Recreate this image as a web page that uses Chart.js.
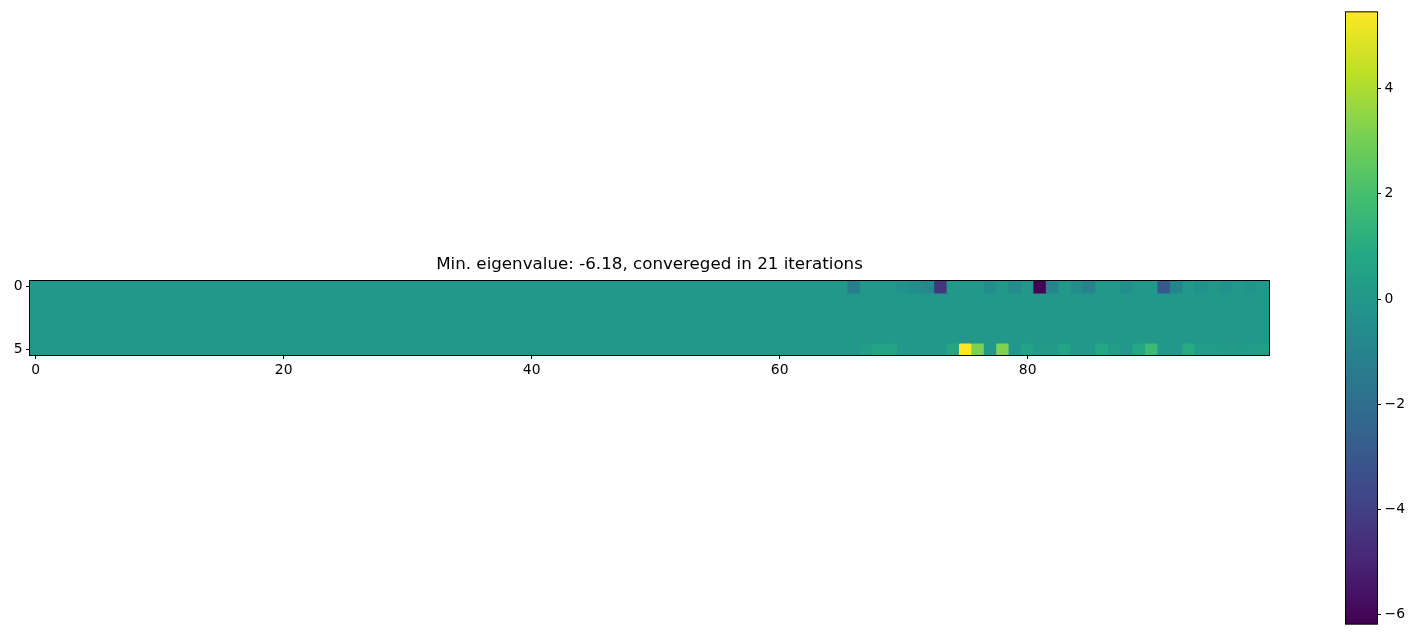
<!DOCTYPE html>
<html>
<head>
<meta charset="utf-8">
<script src="https://cdn.jsdelivr.net/npm/chart.js@4.4.1/dist/chart.umd.min.js"></script>
<style>
  html, body { margin: 0; padding: 0; background: #fff; }
  #heat-wrap { position: absolute; left: 0; top: 0; width: 1290px; height: 636px; }
  #cbar-wrap { position: absolute; left: 1300px; top: 0; width: 116px; height: 636px; }
</style>
</head>
<body>
<div id="heat-wrap"><canvas id="heat"></canvas></div>
<div id="cbar-wrap"><canvas id="cbar"></canvas></div>
<script>
// -- Data -----------------------------------------------------------------

const titleText = 'Min. eigenvalue: -6.18, convereged in 21 iterations';

const columns = [
  0, 1, 2, 3, 4, 5, 6, 7, 8, 9, 10, 11, 12, 13, 14, 15, 16, 17, 18, 19,
  20, 21, 22, 23, 24, 25, 26, 27, 28, 29, 30, 31, 32, 33, 34, 35, 36, 37, 38, 39,
  40, 41, 42, 43, 44, 45, 46, 47, 48, 49, 50, 51, 52, 53, 54, 55, 56, 57, 58, 59,
  60, 61, 62, 63, 64, 65, 66, 67, 68, 69, 70, 71, 72, 73, 74, 75, 76, 77, 78, 79,
  80, 81, 82, 83, 84, 85, 86, 87, 88, 89, 90, 91, 92, 93, 94, 95, 96, 97, 98, 99,
];

const row0 = [
  0, 0, 0, 0, 0, 0, 0, 0, 0, 0, 0, 0, 0, 0, 0, 0, 0, 0, 0, 0,
  0, 0, 0, 0, 0, 0, 0, 0, 0, 0, 0, 0, 0, 0, 0, 0, 0, 0, 0, 0,
  0, 0, 0, 0, 0, 0, 0, 0, 0, 0, 0, 0, 0, 0, 0, 0, 0, 0, 0, 0,
  0, 0, 0, 0, 0, 0, -1.2, 0, 0, 0, -0.3, -0.5, -0.8, -4.4, 0, 0, 0, -0.6, 0, -0.6,
  0, -6.18, -0.9, 0, -0.6, -1.0, 0, 0, -0.4, 0, 0, -3.0, -0.9, 0, -0.3, 0, -0.3, 0, -0.2, 0,
];
const row1 = [
  0, 0, 0, 0, 0, 0, 0, 0, 0, 0, 0, 0, 0, 0, 0, 0, 0, 0, 0, 0,
  0, 0, 0, 0, 0, 0, 0, 0, 0, 0, 0, 0, 0, 0, 0, 0, 0, 0, 0, 0,
  0, 0, 0, 0, 0, 0, 0, 0, 0, 0, 0, 0, 0, 0, 0, 0, 0, 0, 0, 0,
  0, 0, 0, 0, 0, 0, 0, 0, 0, 0, 0, 0, 0, 0, 0, 0, 0, 0, 0, 0,
  0, 0, 0, 0, 0, 0, 0, 0, 0, 0, 0, 0, 0, 0, 0, 0, 0, 0, 0, 0,
];
const row2 = [
  0, 0, 0, 0, 0, 0, 0, 0, 0, 0, 0, 0, 0, 0, 0, 0, 0, 0, 0, 0,
  0, 0, 0, 0, 0, 0, 0, 0, 0, 0, 0, 0, 0, 0, 0, 0, 0, 0, 0, 0,
  0, 0, 0, 0, 0, 0, 0, 0, 0, 0, 0, 0, 0, 0, 0, 0, 0, 0, 0, 0,
  0, 0, 0, 0, 0, 0, 0, 0, 0, 0, 0, 0, 0, 0, 0, 0, 0, 0, 0, 0,
  0, 0, 0, 0, 0, 0, 0, 0, 0, 0, 0, 0, 0, 0, 0, 0, 0, 0, 0, 0,
];
const row3 = [
  0, 0, 0, 0, 0, 0, 0, 0, 0, 0, 0, 0, 0, 0, 0, 0, 0, 0, 0, 0,
  0, 0, 0, 0, 0, 0, 0, 0, 0, 0, 0, 0, 0, 0, 0, 0, 0, 0, 0, 0,
  0, 0, 0, 0, 0, 0, 0, 0, 0, 0, 0, 0, 0, 0, 0, 0, 0, 0, 0, 0,
  0, 0, 0, 0, 0, 0, 0, 0, 0, 0, 0, 0, 0, 0, 0, 0, 0, 0, 0, 0,
  0, 0, 0, 0, 0, 0, 0, 0, 0, 0, 0, 0, 0, 0, 0, 0, 0, 0, 0, 0,
];
const row4 = [
  0, 0, 0, 0, 0, 0, 0, 0, 0, 0, 0, 0, 0, 0, 0, 0, 0, 0, 0, 0,
  0, 0, 0, 0, 0, 0, 0, 0, 0, 0, 0, 0, 0, 0, 0, 0, 0, 0, 0, 0,
  0, 0, 0, 0, 0, 0, 0, 0, 0, 0, 0, 0, 0, 0, 0, 0, 0, 0, 0, 0,
  0, 0, 0, 0, 0, 0, 0, 0, 0, 0, 0, 0, 0, 0, 0, 0, 0, 0, 0, 0,
  0, 0, 0, 0, 0, 0, 0, 0, 0, 0, 0, 0, 0, 0, 0, 0, 0, 0, 0, 0,
];
const row5 = [
  0, 0, 0, 0, 0, 0, 0, 0, 0, 0, 0, 0, 0, 0, 0, 0, 0, 0, 0, 0,
  0, 0, 0, 0, 0, 0, 0, 0, 0, 0, 0, 0, 0, 0, 0, 0, 0, 0, 0, 0,
  0, 0, 0, 0, 0, 0, 0, 0, 0, 0, 0, 0, 0, 0, 0, 0, 0, 0, 0, 0,
  0, 0, 0, 0, 0, 0, 0, 0.3, 0.6, 0.6, 0, 0, 0, 0, 0.7, 5.46, 3.1, 0, 3.2, 0,
  0.5, 0.1, 0.1, 0.6, 0, 0, 0.8, 0.3, 0, 0.8, 1.7, 0, 0, 0.9, 0.2, 0.2, 0.1, 0.1, 0.2, 0.3,
];

const rows = [row0, row1, row2, row3, row4, row5];

const xTicks = [0, 20, 40, 60, 80];
const yTicks = [0, 5];
const cbarTicks = [-6, -4, -2, 0, 2, 4];

// -- Colormap (viridis) ---------------------------------------------------

const viridisStops = [
  '#440154', '#482475', '#414487', '#355f8d', '#2a788e', '#21918c',
  '#22a884', '#44bf70', '#7ad151', '#bddf26', '#fde725',
];

const allValues = rows.flat();
const vmin = Math.min(...allValues);
const vmax = Math.max(...allValues);

function hexToRgb(hex) {
  const n = parseInt(hex.slice(1), 16);
  return [(n >> 16) & 255, (n >> 8) & 255, n & 255];
}

function viridis(t) {
  t = Math.max(0, Math.min(1, t));
  const pos = t * (viridisStops.length - 1);
  const i = Math.min(Math.floor(pos), viridisStops.length - 2);
  const f = pos - i;
  const a = hexToRgb(viridisStops[i]);
  const b = hexToRgb(viridisStops[i + 1]);
  const c = a.map((v, k) => Math.round(v + (b[k] - v) * f));
  return `rgb(${c[0]},${c[1]},${c[2]})`;
}

function colorFor(value) {
  return viridis((value - vmin) / (vmax - vmin));
}

// -- Shared bits -------------------------------------------------------------

const FONT = 'DejaVu Sans';
Chart.defaults.font.family = FONT;
Chart.defaults.color = '#000';
Chart.defaults.animation = false;

// black frame around the plotting area (matplotlib spines)
const framePlugin = {
  id: 'frame',
  afterDatasetsDraw(chart) {
    const { ctx, chartArea: a } = chart;
    ctx.save();
    ctx.strokeStyle = '#000';
    ctx.lineWidth = 1;
    ctx.strokeRect(a.left, a.top, a.right - a.left, a.bottom - a.top);
    ctx.restore();
  },
};

// title centred over the axes, like matplotlib's ax.set_title
const axesTitlePlugin = {
  id: 'axesTitle',
  afterDraw(chart) {
    const { ctx, chartArea: a } = chart;
    ctx.save();
    ctx.fillStyle = '#000';
    ctx.font = `16.7px "${FONT}"`;
    ctx.textAlign = 'center';
    ctx.textBaseline = 'middle';
    ctx.fillText(titleText, (a.left + a.right) / 2, a.top - 16);
    ctx.restore();
  },
};

const tickGrid = {
  display: true,
  drawOnChartArea: false,
  drawTicks: true,
  tickLength: 3.5,
  color: '#000',
  lineWidth: 1,
};

const minus = (v) => (v < 0 ? '\u2212' + Math.abs(v) : String(v));

// -- Heatmap -----------------------------------------------------------------

const heatDatasets = rows.map((values, r) => ({
  data: columns.map((c) => ({ x: c, y: [r - 0.5, r + 0.5] })),
  backgroundColor: values.map(colorFor),
  borderWidth: 0,
  inflateAmount: 0.5,
  grouped: false,
  barPercentage: 1,
  categoryPercentage: 1,
}));

new Chart(document.getElementById('heat'), {
  type: 'bar',
  data: { datasets: heatDatasets },
  options: {
    responsive: true,
    maintainAspectRatio: false,
    layout: { padding: { left: 0, right: 20.5, top: 280.5, bottom: 250.5 } },
    scales: {
      x: {
        type: 'linear',
        min: -0.5,
        max: 99.5,
        offset: false,
        grid: { ...tickGrid, offset: false },
        border: { display: false },
        afterBuildTicks: (scale) => { scale.ticks = xTicks.map((v) => ({ value: v })); },
        afterFit: (scale) => { scale.height = 30; },
        ticks: { font: { size: 13.9 }, padding: 3.5, maxRotation: 0, color: '#000' },
      },
      y: {
        type: 'linear',
        min: -0.5,
        max: 5.5,
        reverse: true,
        beginAtZero: false,
        grid: tickGrid,
        border: { display: false },
        afterBuildTicks: (scale) => { scale.ticks = yTicks.map((v) => ({ value: v })); },
        afterFit: (scale) => { scale.width = 29.5; },
        ticks: { font: { size: 13.9 }, padding: 3.5, color: '#000' },
      },
    },
    plugins: {
      legend: { display: false },
      tooltip: { enabled: false },
      title: { display: false },
    },
  },
  plugins: [framePlugin, axesTitlePlugin],
});

// -- Colorbar ----------------------------------------------------------------

function cbarGradient(context) {
  const { chart } = context;
  const a = chart.chartArea;
  if (!a) return viridisStops[5];
  const g = chart.ctx.createLinearGradient(0, a.bottom, 0, a.top);
  viridisStops.forEach((c, i) => g.addColorStop(i / (viridisStops.length - 1), c));
  return g;
}

new Chart(document.getElementById('cbar'), {
  type: 'bar',
  data: {
    labels: [''],
    datasets: [
      {
        data: [[vmin, vmax]],
        backgroundColor: cbarGradient,
        borderWidth: 0,
        barPercentage: 1,
        categoryPercentage: 1,
      },
    ],
  },
  options: {
    responsive: true,
    maintainAspectRatio: false,
    layout: { padding: { left: 45.5, right: 0, top: 9.5, bottom: 9.5 } },
    scales: {
      x: { display: false },
      y: {
        position: 'right',
        min: vmin,
        max: vmax,
        beginAtZero: false,
        grid: tickGrid,
        border: { display: false },
        afterBuildTicks: (scale) => { scale.ticks = cbarTicks.map((v) => ({ value: v })); },
        afterFit: (scale) => { scale.width = 38.5; },
        ticks: { font: { size: 13.9 }, padding: 3.5, color: '#000', callback: minus },
      },
    },
    plugins: {
      legend: { display: false },
      tooltip: { enabled: false },
    },
  },
  plugins: [framePlugin],
});
</script>
</body>
</html>
